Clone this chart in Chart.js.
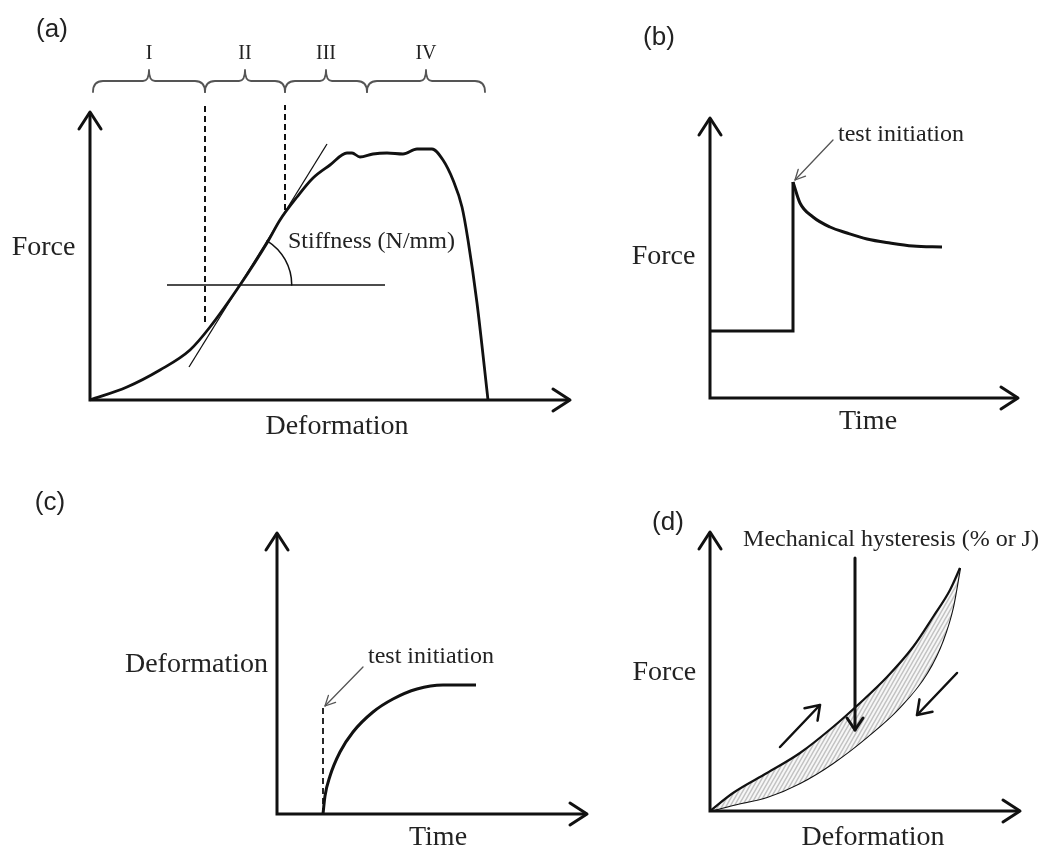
<!DOCTYPE html>
<html>
<head>
<title>Mechanical test curves</title>
<script src="https://cdn.jsdelivr.net/npm/chart.js"></script>
<style>
  body { margin: 0; background: #fff; }
  canvas { position: absolute; }
</style>
</head>
<body>
<canvas id="chart-a" width="600" height="460" style="left:0;top:0"></canvas>
<canvas id="chart-b" width="444" height="460" style="left:600px;top:0"></canvas>
<canvas id="chart-c" width="600" height="392" style="left:0;top:460px"></canvas>
<canvas id="chart-d" width="444" height="392" style="left:600px;top:460px"></canvas>

<script>
// ---- (a) force vs deformation ----
const aDeformation = [0, 0.925, 1.75, 2.5, 3.0, 3.75, 4.425, 4.75, 5.175, 5.575, 6.0, 6.425, 6.55, 6.75, 7.075, 7.425, 7.825, 8.175, 8.55, 8.825, 9.075, 9.3, 9.45, 9.675, 9.95];
const aForce       = [0, 0.325, 0.75, 1.25, 1.825, 2.875, 3.925, 4.5, 5.075, 5.55, 5.875, 6.175, 6.175, 6.075, 6.15, 6.175, 6.15, 6.275, 6.275, 6.0, 5.5, 4.825, 4.0, 2.425, 0];
const aRegions     = ['I', 'II', 'III', 'IV'];
const aRegionEdges = [0.075, 2.875, 4.875, 6.925, 9.875];
const aTangentX = [2.475, 5.925];
const aTangentY = [0.825, 6.4];
const aLevelX = [1.925, 7.375];
const aLevelY = [2.875, 2.875];
const aDash1Y = [1.95, 7.375];
const aDash2Y = [4.75, 7.375];

// ---- (b) force vs time (stress relaxation) ----
const bStepTime  = [0, 2.075, 2.075];
const bStepForce = [1.675, 1.675, 5.4];
const bDecayTime  = [2.075, 2.25, 2.575, 3.0, 3.425, 3.925, 4.5, 5.075, 5.8];
const bDecayForce = [5.4, 4.875, 4.525, 4.275, 4.125, 3.975, 3.875, 3.8, 3.775];

// ---- (c) deformation vs time (creep) ----
const cTime        = [1.15, 1.2, 1.325, 1.575, 1.9, 2.4, 2.9, 3.5, 4.15, 4.975];
const cDeformation = [0, 0.45, 0.95, 1.55, 2.05, 2.55, 2.875, 3.125, 3.225, 3.225];
const cStartY = [0, 2.675];

// ---- (d) hysteresis loop ----
const dLoadX   = [0, 0.575, 1.425, 2.25, 3.075, 3.75, 4.425, 5.075, 5.575, 6.0, 6.25];
const dLoadY   = [0, 0.45, 0.95, 1.45, 2.1, 2.7, 3.35, 4.1, 4.85, 5.525, 6.075];
const dUnloadX = [0, 0.575, 1.425, 2.25, 3.075, 3.925, 4.75, 5.425, 5.825, 6.075, 6.25];
const dUnloadY = [0, 0.15, 0.35, 0.7, 1.2, 1.85, 2.6, 3.45, 4.275, 5.1, 6.075];

const PX = 40; // pixels per unit, same on every panel
const INK = '#111';
const TEXT = '#222';
const SERIF = '"Liberation Serif", "Times New Roman", serif';
const SANS = '"Liberation Sans", Arial, sans-serif';

function frame(ox, oy, w, h) {
  return {
    x: { type: 'linear', display: false, min: -ox / PX, max: (w - ox) / PX },
    y: { type: 'linear', display: false, min: -(h - oy) / PX, max: oy / PX }
  };
}

function series(xs, ys, style) {
  return Object.assign({
    data: xs.map((v, i) => ({ x: v, y: ys[i] })),
    pointRadius: 0,
    borderColor: INK,
    borderWidth: 2.8,
    fill: false
  }, style);
}

function chevron(ctx, x, y, ang, len, half) {
  const bx = x - Math.cos(ang) * len, by = y - Math.sin(ang) * len;
  const nx = -Math.sin(ang) * half, ny = Math.cos(ang) * half;
  ctx.beginPath();
  ctx.moveTo(bx + nx, by + ny);
  ctx.lineTo(x, y);
  ctx.lineTo(bx - nx, by - ny);
  ctx.stroke();
}

// axes, arrows and labels on top of the datasets
function overlay(cfg) {
  return {
    id: 'overlay',
    afterDatasetsDraw(chart) {
      const { ctx, scales: { x, y } } = chart;
      const px = v => x.getPixelForValue(v), py = v => y.getPixelForValue(v);
      ctx.save();
      ctx.strokeStyle = INK;
      ctx.lineWidth = 3;
      ctx.lineJoin = 'miter';
      ctx.beginPath();
      ctx.moveTo(px(0), py(cfg.axisTop));
      ctx.lineTo(px(0), py(0));
      ctx.lineTo(px(cfg.axisRight), py(0));
      ctx.stroke();
      ctx.lineCap = 'round';
      ctx.lineJoin = 'round';
      chevron(ctx, px(0), py(cfg.axisTop), -Math.PI / 2, 17, 11);
      chevron(ctx, px(cfg.axisRight), py(0), 0, 17, 11);

      (cfg.arrows || []).forEach(a => {
        const x0 = px(a.from[0]), y0 = py(a.from[1]), x1 = px(a.to[0]), y1 = py(a.to[1]);
        ctx.strokeStyle = a.color || INK;
        ctx.lineWidth = a.width;
        ctx.beginPath();
        ctx.moveTo(x0, y0);
        ctx.lineTo(x1, y1);
        ctx.stroke();
        chevron(ctx, x1, y1, Math.atan2(y1 - y0, x1 - x0), a.head[0], a.head[1]);
      });

      if (cfg.extra) cfg.extra(ctx, px, py);

      ctx.fillStyle = TEXT;
      ctx.textBaseline = 'middle';
      cfg.texts.forEach(t => {
        ctx.font = t.font;
        ctx.textAlign = t.align || 'center';
        ctx.fillText(t.text, px(t.x), py(t.y));
      });
      ctx.restore();
    }
  };
}

function makeChart(id, scales, datasets, cfg) {
  return new Chart(document.getElementById(id), {
    type: 'line',
    data: { datasets },
    options: {
      responsive: false,
      animation: false,
      events: [],
      layout: { padding: 0 },
      scales,
      plugins: { legend: { display: false }, tooltip: { enabled: false } }
    },
    plugins: [overlay(cfg)]
  });
}

const thin = { color: '#555', width: 1.3, head: [10, 5] };

// (a)
makeChart('chart-a', frame(90, 400, 600, 460), [
  series(aDeformation, aForce, { cubicInterpolationMode: 'monotone' }),
  series(aTangentX, aTangentY, { borderWidth: 1.3 }),
  series(aLevelX, aLevelY, { borderWidth: 1.5 }),
  series([aRegionEdges[1], aRegionEdges[1]], aDash1Y, { borderWidth: 2, borderDash: [6, 4] }),
  series([aRegionEdges[2], aRegionEdges[2]], aDash2Y, { borderWidth: 2, borderDash: [6, 4] })
], {
  axisTop: 7.2, axisRight: 12.0,
  extra(ctx, px, py) {
    // curly braces over the four regions
    const yh = py(7.975), ye = py(7.7), yt = py(8.25), r = 10, rt = 6;
    ctx.strokeStyle = '#555';
    ctx.lineWidth = 1.8;
    for (let i = 0; i < aRegions.length; i++) {
      const x0 = px(aRegionEdges[i]), x1 = px(aRegionEdges[i + 1]), xm = (x0 + x1) / 2;
      ctx.beginPath();
      ctx.moveTo(x0, ye);
      ctx.quadraticCurveTo(x0, yh, x0 + r, yh);
      ctx.lineTo(xm - rt, yh);
      ctx.quadraticCurveTo(xm, yh, xm, yt);
      ctx.quadraticCurveTo(xm, yh, xm + rt, yh);
      ctx.lineTo(x1 - r, yh);
      ctx.quadraticCurveTo(x1, yh, x1, ye);
      ctx.stroke();
      ctx.fillStyle = TEXT;
      ctx.font = '20px ' + SERIF;
      ctx.textAlign = 'center';
      ctx.textBaseline = 'middle';
      ctx.fillText(aRegions[i], xm, py(8.65));
    }
    // stiffness angle
    const slope = (aTangentY[1] - aTangentY[0]) / (aTangentX[1] - aTangentX[0]);
    const cx = aTangentX[0] + (aLevelY[0] - aTangentY[0]) / slope;
    ctx.strokeStyle = INK;
    ctx.lineWidth = 1.5;
    ctx.beginPath();
    ctx.arc(px(cx), py(aLevelY[0]), px(cx + 1.3) - px(cx), -Math.atan(slope), 0);
    ctx.stroke();
  },
  texts: [
    { text: '(a)', x: -0.95, y: 9.25, font: '26px ' + SANS },
    { text: 'Force', x: -1.16, y: 3.8, font: '28px ' + SERIF },
    { text: 'Deformation', x: 6.175, y: -0.675, font: '28px ' + SERIF },
    { text: 'Stiffness (N/mm)', x: 4.95, y: 3.95, font: '24px ' + SERIF, align: 'left' }
  ]
});

// (b)
makeChart('chart-b', frame(110, 398, 444, 460), [
  series(bStepTime, bStepForce, { borderWidth: 3 }),
  series(bDecayTime, bDecayForce, { borderWidth: 3, cubicInterpolationMode: 'monotone' })
], {
  axisTop: 7.0, axisRight: 7.7,
  arrows: [Object.assign({ from: [3.075, 6.45], to: [2.125, 5.45] }, thin)],
  texts: [
    { text: '(b)', x: -1.275, y: 9.0, font: '26px ' + SANS },
    { text: 'Force', x: -1.16, y: 3.525, font: '28px ' + SERIF },
    { text: 'Time', x: 3.95, y: -0.6, font: '28px ' + SERIF },
    { text: 'test initiation', x: 3.2, y: 6.575, font: '24px ' + SERIF, align: 'left' }
  ]
});

// (c)
makeChart('chart-c', frame(277, 354, 600, 392), [
  series(cTime, cDeformation, { borderWidth: 3, cubicInterpolationMode: 'monotone' }),
  series([cTime[0], cTime[0]], cStartY, { borderWidth: 1.8, borderDash: [6, 4] })
], {
  axisTop: 7.025, axisRight: 7.75,
  arrows: [Object.assign({ from: [2.15, 3.675], to: [1.2, 2.7] }, thin)],
  texts: [
    { text: '(c)', x: -5.675, y: 7.775, font: '26px ' + SANS },
    { text: 'Deformation', x: -0.225, y: 3.725, font: '28px ' + SERIF, align: 'right' },
    { text: 'Time', x: 4.025, y: -0.6, font: '28px ' + SERIF },
    { text: 'test initiation', x: 2.275, y: 3.925, font: '24px ' + SERIF, align: 'left' }
  ]
});

// (d)
function hatch() {
  // light steep stripes like the shaded loop
  const c = document.createElement('canvas');
  c.width = 4; c.height = 7;
  const g = c.getContext('2d');
  g.fillStyle = '#f7f7f7';
  g.fillRect(0, 0, 4, 7);
  g.strokeStyle = '#c2c2c2';
  g.lineWidth = 1.4;
  g.beginPath();
  g.moveTo(-1, 8.75); g.lineTo(5, -1.75);
  g.moveTo(-1, 1.75); g.lineTo(1, -1.75);
  g.moveTo(3, 8.75); g.lineTo(5, 5.25);
  g.stroke();
  return g.createPattern(c, 'repeat');
}

makeChart('chart-d', frame(110, 351, 444, 392), [
  series(dLoadX, dLoadY, { borderWidth: 2.2, cubicInterpolationMode: 'monotone', fill: '+1', backgroundColor: hatch() }),
  series(dUnloadX, dUnloadY, { borderWidth: 2.2, cubicInterpolationMode: 'monotone' })
], {
  axisTop: 6.975, axisRight: 7.75,
  arrows: [
    { from: [3.625, 6.325], to: [3.625, 2.025], width: 3, head: [12, 8] },
    { from: [1.75, 1.6], to: [2.75, 2.65], width: 2.5, head: [13, 9] },
    { from: [6.175, 3.45], to: [5.175, 2.4], width: 2.5, head: [13, 9] }
  ],
  texts: [
    { text: '(d)', x: -1.05, y: 7.2, font: '26px ' + SANS },
    { text: 'Force', x: -1.14, y: 3.45, font: '28px ' + SERIF },
    { text: 'Deformation', x: 4.075, y: -0.675, font: '28px ' + SERIF },
    { text: 'Mechanical hysteresis (% or J)', x: 4.525, y: 6.775, font: '24px ' + SERIF }
  ]
});
</script>
</body>
</html>
